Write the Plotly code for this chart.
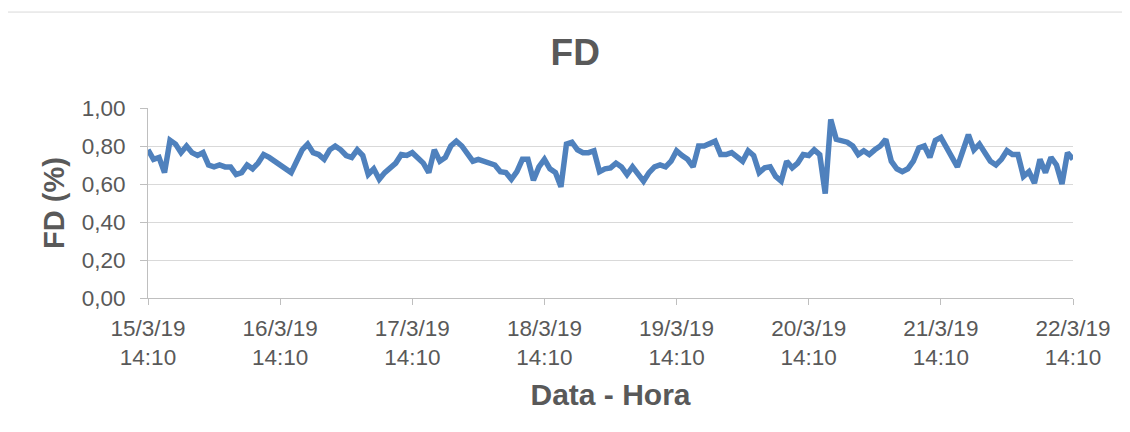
import pandas as pd
import plotly.graph_objects as go

# leituras horarias de FD, a partir de 15/3/19 14:10 (um bloco por dia)
fd_dia1 = [0.78, 0.73, 0.74, 0.66, 0.83, 0.81, 0.765, 0.80, 0.765, 0.75, 0.765, 0.70,
           0.69, 0.70, 0.69, 0.69, 0.65, 0.66, 0.70, 0.68, 0.71, 0.755, 0.74, 0.72]
fd_dia2 = [0.70, 0.68, 0.66, 0.72, 0.78, 0.81, 0.765, 0.755, 0.73, 0.78, 0.80, 0.78,
           0.75, 0.74, 0.78, 0.75, 0.65, 0.68, 0.625, 0.66, 0.685, 0.71, 0.755, 0.75]
fd_dia3 = [0.765, 0.74, 0.71, 0.66, 0.78, 0.72, 0.74, 0.80, 0.825, 0.80, 0.765, 0.72,
           0.73, 0.72, 0.71, 0.70, 0.665, 0.66, 0.625, 0.665, 0.73, 0.73, 0.62, 0.69]
fd_dia4 = [0.73, 0.68, 0.66, 0.585, 0.81, 0.82, 0.78, 0.765, 0.765, 0.775, 0.665, 0.68,
           0.685, 0.71, 0.69, 0.65, 0.69, 0.65, 0.615, 0.66, 0.69, 0.70, 0.69, 0.72]
fd_dia5 = [0.775, 0.75, 0.73, 0.69, 0.80, 0.80, 0.81, 0.825, 0.755, 0.755, 0.765, 0.74,
           0.72, 0.775, 0.75, 0.66, 0.685, 0.69, 0.64, 0.615, 0.72, 0.685, 0.71, 0.755]
fd_dia6 = [0.75, 0.78, 0.755, 0.55, 0.94, 0.835, 0.825, 0.82, 0.80, 0.755, 0.775, 0.755,
           0.78, 0.80, 0.835, 0.72, 0.68, 0.665, 0.68, 0.72, 0.79, 0.80, 0.74, 0.83]
fd_dia7 = [0.845, 0.79, 0.75, 0.69, 0.775, 0.86, 0.78, 0.81, 0.765, 0.72, 0.70, 0.73,
           0.775, 0.755, 0.755, 0.64, 0.665, 0.605, 0.73, 0.66, 0.74, 0.70, 0.60, 0.765,
           0.73]

tick_vals = ["2019-03-15 14:10", "2019-03-16 14:10", "2019-03-17 14:10", "2019-03-18 14:10",
             "2019-03-19 14:10", "2019-03-20 14:10", "2019-03-21 14:10", "2019-03-22 14:10"]
tick_text = ["15/3/19<br>14:10", "16/3/19<br>14:10", "17/3/19<br>14:10", "18/3/19<br>14:10",
             "19/3/19<br>14:10", "20/3/19<br>14:10", "21/3/19<br>14:10", "22/3/19<br>14:10"]

fd = fd_dia1 + fd_dia2 + fd_dia3 + fd_dia4 + fd_dia5 + fd_dia6 + fd_dia7
horas = pd.date_range("2019-03-15 14:10", periods=len(fd), freq="h")

CINZA = "#595959"
FONTE = "Liberation Sans, Arial, sans-serif"

fig = go.Figure()
fig.add_trace(
    go.Scatter(x=horas, y=fd, mode="lines", line={"color": "#4F81BD", "width": 5.5})
)

# a pagina tem 8px de margem no body, por isso tudo desloca 8px
fig.update_layout(
    width=1130,
    height=432,
    margin={"l": 140, "r": 65, "t": 100, "b": 142},
    paper_bgcolor="white",
    plot_bgcolor="white",
    separators=",.",
    showlegend=False,
    font={"family": FONTE, "color": CINZA, "size": 22},
    title={
        "text": "<b>FD</b>",
        "x": 0.502,
        "xanchor": "center",
        "y": 1 - 44 / 432,
        "yanchor": "middle",
        "font": {"size": 37, "color": CINZA},
    },
)
fig.update_xaxes(
    range=[tick_vals[0], tick_vals[-1]],
    tickvals=tick_vals,
    ticktext=tick_text,
    showgrid=False,
    showline=True,
    linecolor="#BFBFBF",
    linewidth=1,
    ticks="outside",
    ticklen=6,
    tickcolor="#BFBFBF",
    ticklabelstandoff=4,
    tickfont={"size": 22.5, "color": CINZA},
    title={"text": "<b>Data - Hora</b>", "font": {"size": 30, "color": CINZA}, "standoff": 14},
)
fig.update_yaxes(
    range=[0, 1],
    dtick=0.2,
    tickformat=".2f",
    showgrid=True,
    gridcolor="#D9D9D9",
    gridwidth=1,
    zeroline=False,
    showline=True,
    linecolor="#BFBFBF",
    linewidth=1,
    ticks="outside",
    ticklen=7,
    tickcolor="#BFBFBF",
    ticklabelstandoff=10,
    tickfont={"size": 22.5, "color": CINZA},
    title={"text": "<b>FD (%)</b>", "font": {"size": 29, "color": CINZA}, "standoff": 8},
)

# moldura da area do grafico (cortada a direita e em baixo)
fig.add_shape(
    type="rect",
    xref="paper",
    yref="paper",
    x0=-0.1524,
    x1=1.2,
    y0=-0.9,
    y1=1.505,
    line={"color": "#D9D9D9", "width": 1},
    layer="below",
)

fig.write_html("out.html")
